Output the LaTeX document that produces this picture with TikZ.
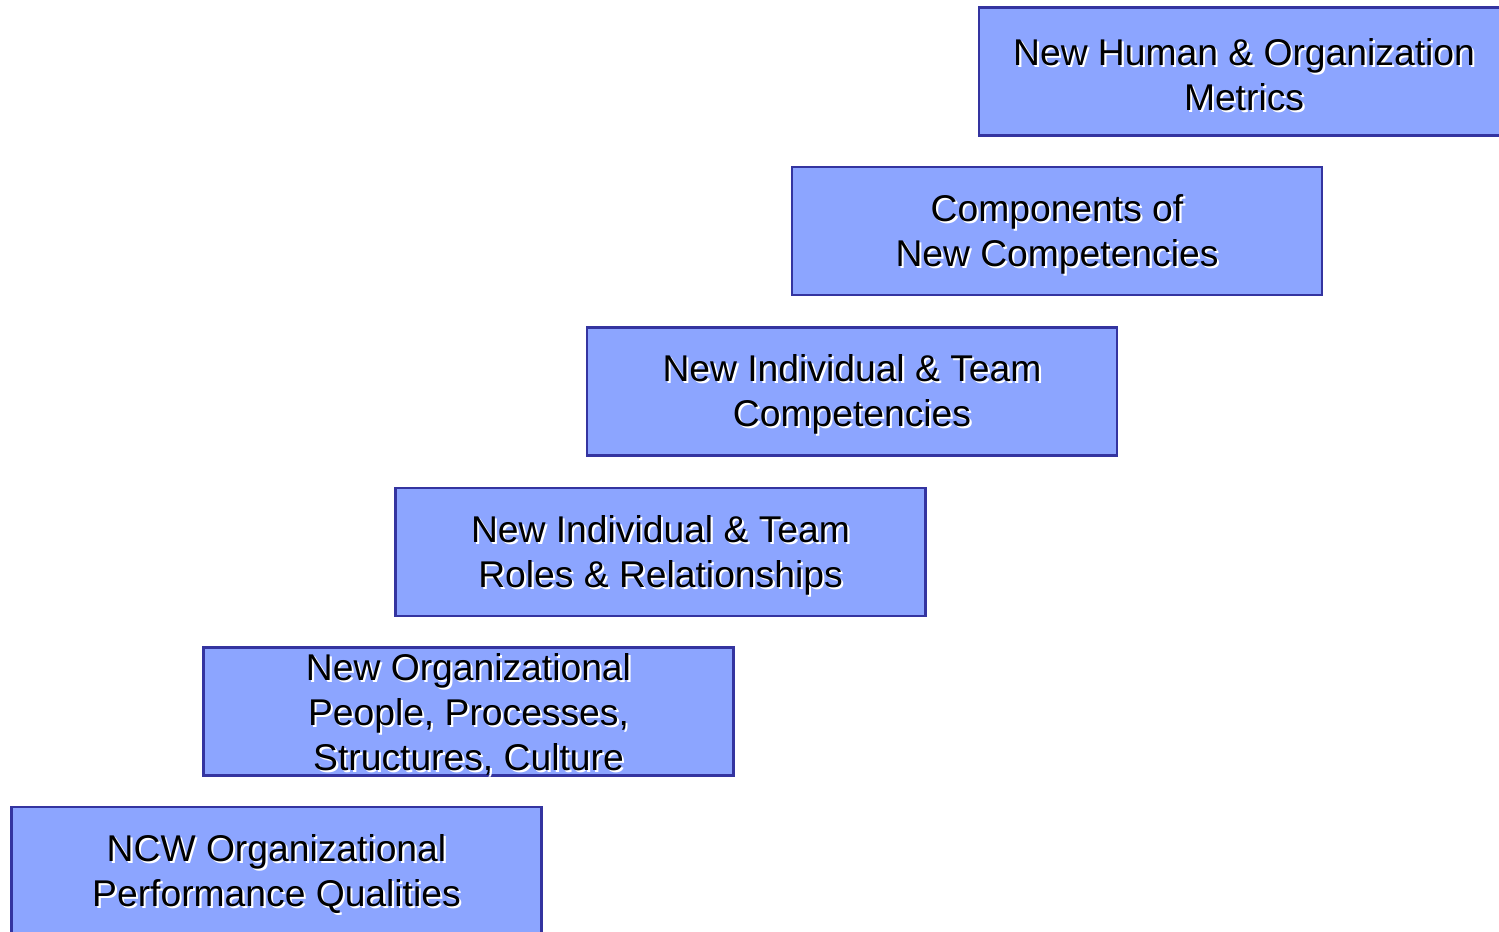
\documentclass[tikz,border=0pt]{standalone}
\usepackage{fontspec}
\setmainfont{Liberation Sans}
\usetikzlibrary{positioning}

\definecolor{rungfill}{RGB}{140,165,255}
\definecolor{rungline}{RGB}{52,52,160}
\newcommand\rungfont{\fontsize{10.6}{12.8}\selectfont}

\tikzset{
  rung/.style={draw=rungline, line width=0.6pt, fill=rungfill,
    minimum width=5.3cm, minimum height=1.28cm, inner sep=0pt},
  rungtext/.style={font=\rungfont, align=center, inner sep=0pt},
}

% text with a small white drop shadow, centred on a box
\newcommand\rungtitle[2]{%
  \node[rungtext, white] at ([shift={(0.6pt,-1.45pt)}]#1.center) {#2};
  \node[rungtext] at ([yshift=-0.9pt]#1.center) {#2};
}

\begin{document}
\begin{tikzpicture}
    \useasboundingbox (0,0) rectangle (14.99,-9.31);
    \clip (0,0) rectangle (14.99,-9.31);

    % the staircase, top step first
    \node[rung] (metrics)   at (12.44,-0.715) {};
    \node[rung] (parts)     at (10.57,-2.31)  {};
    \node[rung] (compet)    at (8.52,-3.915)  {};
    \node[rung] (roles)     at (6.605,-5.52)  {};
    \node[rung] (orgpeople) at (4.685,-7.115) {};
    \node[rung] (ncw)       at (2.765,-8.71)  {};

    \rungtitle{metrics}{New Human \& Organization\\Metrics}
    \rungtitle{parts}{Components of\\New Competencies}
    \rungtitle{compet}{New Individual \& Team\\Competencies}
    \rungtitle{roles}{New Individual \& Team\\Roles \& Relationships}
    \rungtitle{orgpeople}{New Organizational\\People, Processes,\\Structures, Culture}
    \rungtitle{ncw}{NCW Organizational\\Performance Qualities}
\end{tikzpicture}
\end{document}
